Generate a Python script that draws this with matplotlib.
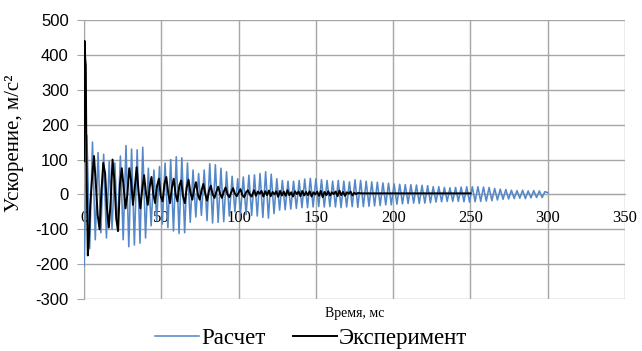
import numpy as np
import matplotlib
matplotlib.use("Agg")
import matplotlib.pyplot as plt

# Data
# Расчет: extrema of the computed signal, evenly spread over 0..300 ms
calc_v = [-205, 170, -155, 150, -130, 120,
          -110, 115, -125, 95, -100, 90,
          -105, 110, -130, 140,
          -150, 130, -145, 128, -140, 135,
          -125, 75, -90, 70,
          -75, 80, -85, 90, -95, 100,
          -105, 108, -112, 105, -110, 90,
          -80, 70, -65, 60, -60, 70,
          -75, 88, -82, 85, -80, 75,
          -78, 65, -62, 52, -50, 45,
          -55, 50, -58, 55, -60, 56,
          -62, 60, -66, 65, -68, 58,
          -55, 45, -45, 40, -44, 38,
          -42, 38, -40, 40, -38, 44,
          -38, 46, -36, 45, -35, 42,
          -36, 40, -35, 38, -36, 40,
          -38, 38, -36, 36, -35, 42,
          -37, 40, -35, 38, -34, 36,
          -33, 35, -32, 33, -30, 32,
          -30, 30, -28, 29, -27, 28,
          -26, 28, -25, 27, -26, 26,
          -25, 25, -24, 22, -22, 22,
          -21, 20, -20, 19, -20, 20,
          -20, 21, -21, 22, -22, 22,
          -21, 22, -20, 21, -19, 20,
          -18, 17, -16, 15, -14, 14,
          -13, 12, -12, 11, -11, 12,
          -12, 10, -10, 11, -9, 10,
          -9, 8, 5]
CALC_END = 300

# Эксперимент: initial impact
exp_spike_t = [0, 0.3, 0.7, 1.1, 1.5, 2.4, 3.2]
exp_spike_v = [95, 440, 390, 370, 100, -175, -120]
# oscillation, sampled every 1.2 ms from 4.0 ms
exp_osc_v = [-30, 50, 110, 30, -60, -100, 10, 90, 60, -40,
             -95, -20, 100, 40, -70, -105, 30, 75, 20, -40,
             0, 75, 40, -30, 20, 78, 10, -40, 15, 55,
             5, -30, 20, 50, 0, -25, 25, 45, -5, -20,
             30, 50, 5, -25, 20, 45, 0, -20, 25, 40,
             -5, -25, 20, 42, 5, -15, 15, 35, 0, -15,
             12, 30, 2, -18, 10, 25, 0, -10, 8, 22,
             2, -10, 8, 20, 0, -8, 6, 18, 2, -5,
             5, 15, -2, -8, 6, 12, 0, -6]
# noisy part, 1.2 ms apart from 110 ms
exp_noise_v = [12, -4, 8, 2, 10, -6, 9, -2, 11, -5, 7, 0, 9, -7, 10, -3,
               8, -4, 12, -2, 6, -6, 9, 1, 8, -5, 10, -3, 7, -2, 9, -6,
               6, 0, 8, -4, 10, -8, 7, -2, 9, -3, 6, 1, 8, -5, 11, -2,
               7, -4, 6, 2, 8, -3, 5, 1, 4]
exp_tail_t = [180, 250]
exp_tail_v = [3, 3]

BLUE = "#5588c8"
GRID = "#a6a6a6"


def build_series():
    calc_t = np.linspace(0, CALC_END, len(calc_v))
    osc_t = 4.0 + 1.2 * np.arange(len(exp_osc_v))
    noise_t = 110 + 1.2 * np.arange(len(exp_noise_v))
    exp_t = np.concatenate([exp_spike_t, osc_t, noise_t, exp_tail_t])
    exp_v = np.concatenate([exp_spike_v, exp_osc_v, exp_noise_v, exp_tail_v])
    return calc_t, np.array(calc_v), exp_t, exp_v


def main():
    calc_t, calc_y, exp_t, exp_y = build_series()

    plt.rcParams["axes.unicode_minus"] = False

    fig = plt.figure(figsize=(6.42, 3.51), dpi=100)
    ax = fig.add_axes([0.131, 0.148, 0.8425, 0.795])

    ax.plot(calc_t, calc_y, color=BLUE, lw=1.15, label="Расчет", zorder=3)
    ax.plot(exp_t, exp_y, color="black", lw=1.4, label="Эксперимент", zorder=4)

    ax.set_xlim(0, 350)
    ax.set_ylim(-300, 500)
    ax.set_xticks(range(0, 351, 50))
    ax.set_yticks(range(-300, 501, 100))

    ax.grid(True, color=GRID, lw=1.0)
    ax.set_axisbelow(True)
    for s in ("top", "right"):
        ax.spines[s].set_visible(False)
    ax.spines["left"].set_color(GRID)
    ax.spines["bottom"].set_color(GRID)
    ax.spines["bottom"].set_position(("data", 0))

    ax.tick_params(axis="y", length=5, color=GRID, pad=6, labelsize=12)
    ax.tick_params(axis="x", length=0, pad=11, labelsize=12)
    for lbl in ax.get_yticklabels():
        lbl.set_family("Liberation Sans")
    for lbl in ax.get_xticklabels():
        lbl.set_family("Liberation Serif")

    ax.set_ylabel("Ускорение, м/с²", family="Liberation Serif", fontsize=15)
    ax.yaxis.set_label_coords(-0.112, 0.56)

    fig.text(0.552, 0.108, "Время, мс", family="Liberation Serif",
             fontsize=10, ha="center", va="center")

    fig.legend(loc="center", bbox_to_anchor=(0.485, 0.036), ncol=2, frameon=False,
               prop={"family": "Liberation Serif", "size": 16.5},
               handlelength=1.9, handletextpad=0.1, columnspacing=1.2,
               borderaxespad=0, borderpad=0.1)

    plt.savefig("out.png", dpi=100)


if __name__ == "__main__":
    main()
